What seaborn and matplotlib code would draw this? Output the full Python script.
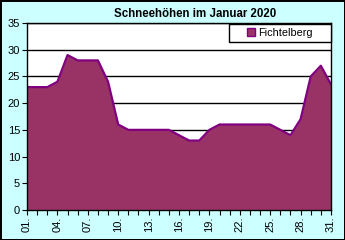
import matplotlib
matplotlib.use("Agg")
import matplotlib.pyplot as plt
from matplotlib.patches import Rectangle, Patch
import seaborn as sns
import pandas as pd

days = list(range(1, 32))
snow = [23, 23, 23, 24, 29, 28, 28, 28, 24, 16,
        15, 15, 15, 15, 15, 14, 13, 13, 15, 16,
        16, 16, 16, 16, 16, 15, 14, 17, 25, 27, 23.5]
series_name = "Fichtelberg"
title = "Schneehöhen im Januar 2020"
tick_days = list(range(1, 32, 3))
tick_labels = [f"{d:02d}." for d in tick_days]

df = pd.DataFrame({"Tag": days, "Schneehöhe": snow})

plt.rcParams['font.family'] = ['Liberation Sans', 'DejaVu Sans']

fig = plt.figure(figsize=(3.45, 2.4), dpi=100)
fig.patch.set_facecolor('#CCFFFF')
fig.patch.set_edgecolor('black')
fig.patch.set_linewidth(2)

ax = fig.add_axes([27/345, 1-210/240, 304/345, 187/240])
ax.set_facecolor('white')

fill_col = '#993366'
line_col = '#800080'

ax.fill_between(df["Tag"], 0, df["Schneehöhe"], color=fill_col, zorder=2, linewidth=0)
sns.lineplot(data=df, x="Tag", y="Schneehöhe", ax=ax, color=line_col, linewidth=1.6, zorder=3)

ax.set_xlim(1, 31)
ax.set_ylim(0, 35)
ax.set_yticks(range(0, 36, 5))
ax.set_yticklabels([str(v) for v in range(0, 36, 5)], fontsize=8)
ax.set_xticks(days)
ax.set_xticklabels([f"{d:02d}." if d in tick_days else "" for d in days],
                   rotation=90, fontsize=8)
ax.tick_params(axis='both', direction='out', length=3.5, width=0.8, color='black', pad=1.5)
ax.set_xlabel("")
ax.set_ylabel("")

ax.yaxis.grid(True, color='black', linewidth=1)
ax.xaxis.grid(False)
ax.set_axisbelow(True)
for s in ax.spines.values():
    s.set_color('black')
    s.set_linewidth(1)
    s.set_zorder(4)

# legend box
ax.add_patch(Rectangle((0.664, 0.9), 0.336, 0.095, transform=ax.transAxes,
                       facecolor='white', edgecolor='black', linewidth=1, zorder=5,
                       clip_on=False))
handle = Patch(facecolor=fill_col, edgecolor=line_col, linewidth=1)
leg = ax.legend([handle], [series_name], loc='center',
                bbox_to_anchor=(0.664 + 0.168, 0.9475), frameon=False,
                fontsize=7.8, handlelength=0.7, handleheight=0.7,
                handletextpad=0.3, borderpad=0)
leg.set_zorder(6)

fig.text(195/345, 1-14/240, title, ha='center', va='center',
         fontsize=8.3, fontweight='bold')

fig.savefig("out.png", dpi=100, facecolor=fig.get_facecolor(), edgecolor=fig.get_edgecolor())
